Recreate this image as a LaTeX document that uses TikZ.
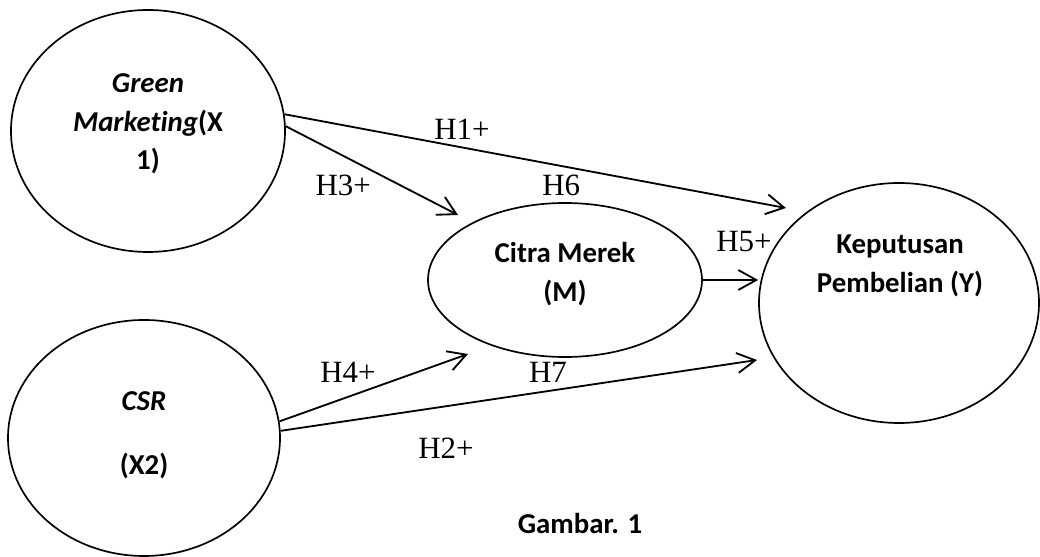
\documentclass[tikz,border=0pt]{standalone}
\usepackage{fontspec}
\setmainfont{Carlito}[Ligatures=NoCommon]
\newfontfamily\tnr{Liberation Serif}
\usetikzlibrary{arrows.meta,shapes.geometric}

\begin{document}
\begin{tikzpicture}[
  var/.style = {ellipse, draw, line width=1.2pt, inner sep=0pt},
  vtext/.style = {align=center, font=\fontsize{20.5}{27.5}\selectfont\bfseries},
  hyp/.style = {font=\fontsize{22}{26}\selectfont\tnr},
  arr/.style = {line width=1.3pt, -{Straight Barb[length=4.5mm,width=5mm]}}
]
\useasboundingbox (0,0) rectangle (26,-13.925);
\node[var, minimum width=6.85cm, minimum height=6.05cm] (x1) at (3.7,-3.275) {};
\node[var, minimum width=6.8cm, minimum height=5.9cm] (x2) at (3.6,-10.95) {};
\node[var, minimum width=6.85cm, minimum height=3.85cm] (m) at (14.125,-7.0) {};
\node[var, minimum width=7.0cm, minimum height=6.0cm] (y) at (22.475,-7.575) {};
\node[vtext] (tx1) at (3.7,-3.1) {\itshape Green\\ \itshape Marketing\upshape(X\\ 1)};
\node[vtext] (tx2) at (3.6,-10.88) {\itshape CSR\\[18pt] (X2)};
\node[vtext] (tm) at (14.125,-6.85) {Citra Merek\\ (M)};
\node[vtext] (ty) at (22.5,-6.65) {Keputusan\\ Pembelian (Y)};
\coordinate (t1) at (19.65,-5.2);
\coordinate (t3) at (11.45,-5.375);
\coordinate (t4) at (11.7,-8.85);
\coordinate (t2) at (18.925,-9.0);
\draw[arr] (x1.7) -- (t1);
\draw[arr] (x1.2) -- (t3);
\draw[arr] (x2.7) -- (t4);
\draw[arr] (x2.3) -- (t2);
\draw[arr] (m.east) -- (m.east -| y.west);
\node[hyp] (h1) at (11.55,-3.23) {H1+};
\node[hyp] (h3) at (8.58,-4.63) {H3+};
\node[hyp] (h6) at (14.03,-4.63) {H6};
\node[hyp] (h5) at (18.6,-6.05) {H5+};
\node[hyp] (h4) at (8.7,-9.3) {H4+};
\node[hyp] (h7) at (13.7,-9.3) {H7};
\node[hyp] (h2) at (11.15,-11.2) {H2+};
\node[vtext] (cap) at (14.5,-13.08) {Gambar. 1};
\end{tikzpicture}
\end{document}
